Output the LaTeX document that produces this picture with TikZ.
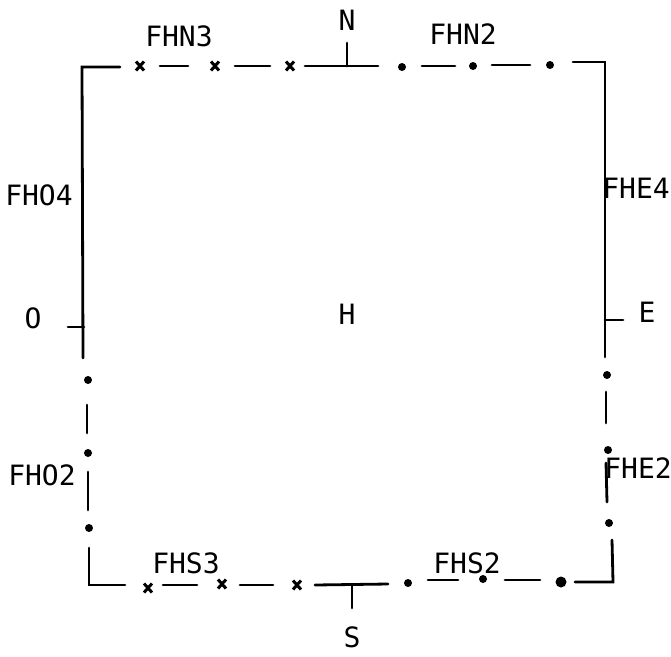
\documentclass[tikz,border=0pt]{standalone}
\usepackage{fontspec}
\newfontfamily\labfont{DejaVu Sans Mono}
\begin{document}
\begin{tikzpicture}[x=1pt,y=-1pt,
  wall/.style={line width=2.8pt,line cap=round},
  lab/.style={font=\labfont\fontsize{28}{28}\selectfont,inner sep=0pt,anchor=center},
  pt/.style={circle,fill=black,inner sep=0pt,minimum size=8pt},
  bigpt/.style={circle,fill=black,inner sep=0pt,minimum size=11pt},
  crossmark/.pic={\draw[line width=3pt] (-4,-4.5)--(4,4.5) (-4,4.5)--(4,-4.5);}]
\useasboundingbox (0,0) rectangle (671,656);
% top edge
\draw[wall] (120,67)--(82,67)--(83,358);
\pic at (140,66) {crossmark};
\draw[wall] (160,66)--(188,66);
\pic at (215,66) {crossmark};
\draw[wall] (235,66)--(270,66);
\pic at (290,66) {crossmark};
\draw[wall] (305,66)--(378,66);
\draw[wall] (347,66)--(347,43);
\node[pt] (t1) at (402,67) {};
\draw[wall] (422,66)--(455,66);
\node[pt] (t2) at (473,66) {};
\draw[wall] (492,65)--(530,65);
\node[pt] (t3) at (550,65) {};
\draw[wall] (573,62)--(605,62)--(605,357);
% O tick and E tick
\draw[wall] (68,327)--(84,327);
\draw[wall] (605,320)--(623,320);
% left lower edge
\node[pt] (l1) at (88,380) {};
\draw[wall] (87,405)--(87,433);
\node[pt] (l2) at (88,453) {};
\draw[wall] (88,472)--(88,510);
\node[pt] (l3) at (89,528) {};
\draw[wall] (89,548)--(89,585)--(125,585);
% bottom
\pic at (148,588) {crossmark};
\draw[wall] (163,585)--(197,585);
\pic at (222,584) {crossmark};
\draw[wall] (240,585)--(273,585);
\pic at (297,585) {crossmark};
\draw[wall] (315,585)--(388,584);
\draw[wall] (352,585)--(352,608);
\node[pt] (b1) at (408,583) {};
\draw[wall] (428,580)--(458,580);
\node[pt] (b2) at (483,579) {};
\draw[wall] (505,580)--(540,580);
\node[bigpt] (b3) at (561,582) {};
\draw[wall] (575,582)--(613,582)--(612,540);
% right lower edge
\node[pt] (r3) at (609,523) {};
\draw[wall] (607,502)--(606,463);
\node[pt] (r2) at (608,450) {};
\draw[wall] (606,423)--(606,392);
\node[pt] (r1) at (607,375) {};
% labels
\node[lab] (N) at (347,20) {N};
\node[lab] (FHN3) at (179,36) {FHN3};
\node[lab] (FHN2) at (463,34) {FHN2};
\node[lab] (FHO4) at (39,195) {FHO4};
\node[lab] (O) at (33,318) {O};
\node[lab] (H) at (347,314) {H};
\node[lab] (E) at (647,312) {E};
\node[lab] (FHE4) at (636,188) {FHE4};
\node[lab] (FHE2) at (638,468) {FHE2};
\node[lab] (FHO2) at (42,475) {FHO2};
\node[lab] (FHS3) at (186,563) {FHS3};
\node[lab] (FHS2) at (467,563) {FHS2};
\node[lab] (S) at (352,637) {S};
\end{tikzpicture}
\end{document}
